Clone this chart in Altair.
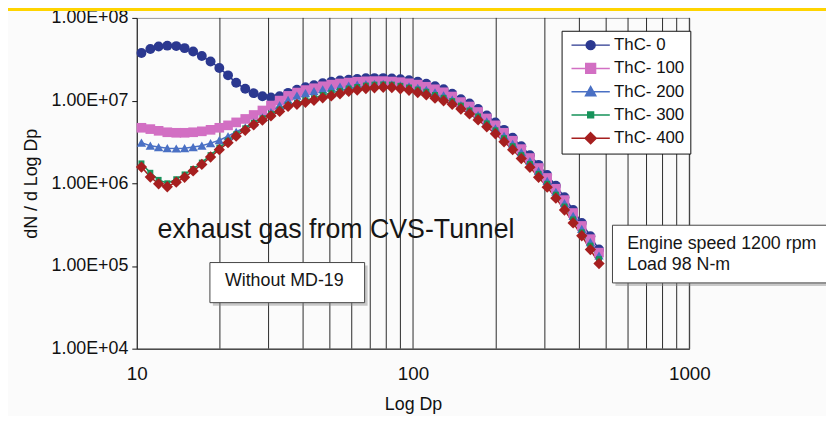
import altair as alt
import pandas as pd

# ---------------- data ----------------
dp = [10.4, 11.2, 12.0, 12.9, 13.9, 14.9, 16.0, 17.2, 18.5, 19.9,
      21.4, 22.9, 24.7, 26.5, 28.5, 30.6, 32.9, 35.3, 38.0, 40.8,
      43.8, 47.1, 50.6, 54.4, 58.5, 62.8, 67.5, 72.5, 78.0, 83.8,
      90.0, 96.7, 104.0, 111.7, 120.1, 129.0, 138.6, 149.0, 160.1, 172.0,
      184.9, 198.7, 213.5, 229.4, 246.5, 264.9, 284.7, 305.9, 328.8, 353.3,
      379.7, 408.0, 438.4, 471.1]

thc0 = [3.76e7, 4.20e7, 4.50e7, 4.62e7, 4.56e7, 4.31e7, 3.92e7, 3.46e7, 2.97e7, 2.48e7,
        2.02e7, 1.64e7, 1.39e7, 1.23e7, 1.13e7, 1.09e7, 1.13e7, 1.24e7, 1.35e7, 1.45e7,
        1.53e7, 1.62e7, 1.69e7, 1.75e7, 1.79e7, 1.83e7, 1.86e7, 1.87e7, 1.87e7, 1.85e7,
        1.81e7, 1.76e7, 1.69e7, 1.60e7, 1.49e7, 1.37e7, 1.21e7, 1.04e7, 9.21e6, 7.91e6,
        6.61e6, 5.45e6, 4.43e6, 3.56e6, 2.81e6, 2.19e6, 1.67e6, 1.26e6, 9.34e5, 6.80e5,
        4.75e5, 3.32e5, 2.29e5, 1.58e5]

thc100 = [4.69e6, 4.52e6, 4.31e6, 4.14e6, 4.08e6, 4.08e6, 4.14e6, 4.25e6, 4.43e6, 4.69e6,
          5.02e6, 5.45e6, 6.00e6, 6.70e6, 7.59e6, 8.71e6, 1.00e7, 1.14e7, 1.25e7, 1.34e7,
          1.41e7, 1.49e7, 1.56e7, 1.61e7, 1.65e7, 1.69e7, 1.71e7, 1.72e7, 1.72e7, 1.70e7,
          1.67e7, 1.62e7, 1.56e7, 1.47e7, 1.37e7, 1.26e7, 1.12e7, 9.59e6, 8.48e6, 7.28e6,
          6.08e6, 5.02e6, 4.08e6, 3.27e6, 2.59e6, 2.02e6, 1.53e6, 1.16e6, 8.59e5, 6.26e5,
          4.37e5, 3.05e5, 2.11e5, 1.45e5]

thc200 = [3.10e6, 2.85e6, 2.74e6, 2.66e6, 2.63e6, 2.66e6, 2.74e6, 2.85e6, 3.06e6, 3.32e6,
          3.71e6, 4.20e6, 4.75e6, 5.45e6, 6.26e6, 7.28e6, 8.80e6, 1.02e7, 1.15e7, 1.23e7,
          1.30e7, 1.37e7, 1.43e7, 1.48e7, 1.52e7, 1.56e7, 1.58e7, 1.59e7, 1.59e7, 1.57e7,
          1.53e7, 1.49e7, 1.43e7, 1.35e7, 1.26e7, 1.16e7, 1.03e7, 8.84e6, 7.80e6, 6.70e6,
          5.60e6, 4.62e6, 3.76e6, 3.01e6, 2.38e6, 1.86e6, 1.41e6, 1.07e6, 7.91e5, 5.76e5,
          4.03e5, 2.81e5, 1.94e5, 1.34e5]

thc300 = [1.74e6, 1.34e6, 1.10e6, 1.00e6, 1.12e6, 1.28e6, 1.49e6, 1.78e6, 2.19e6, 2.70e6,
          3.27e6, 3.92e6, 4.62e6, 5.38e6, 6.12e6, 6.89e6, 7.80e6, 8.84e6, 9.34e6, 1.01e7,
          1.07e7, 1.17e7, 1.24e7, 1.31e7, 1.40e7, 1.46e7, 1.52e7, 1.56e7, 1.57e7, 1.56e7,
          1.51e7, 1.44e7, 1.36e7, 1.28e7, 1.17e7, 1.08e7, 9.86e6, 8.71e6, 7.59e6, 6.43e6,
          5.30e6, 4.37e6, 3.51e6, 2.81e6, 2.19e6, 1.71e6, 1.30e6, 9.86e5, 7.28e5, 5.23e5,
          3.66e5, 2.55e5, 1.76e5, 1.21e5]

thc400 = [1.57e6, 1.19e6, 9.86e5, 9.08e5, 1.03e6, 1.18e6, 1.41e6, 1.69e6, 2.08e6, 2.55e6,
          3.10e6, 3.71e6, 4.37e6, 5.09e6, 5.79e6, 6.52e6, 7.39e6, 8.50e6, 9.00e6, 9.52e6,
          1.01e7, 1.08e7, 1.14e7, 1.21e7, 1.29e7, 1.34e7, 1.40e7, 1.43e7, 1.45e7, 1.44e7,
          1.39e7, 1.33e7, 1.25e7, 1.17e7, 1.07e7, 9.94e6, 9.01e6, 7.91e6, 6.89e6, 5.84e6,
          4.82e6, 3.97e6, 3.18e6, 2.55e6, 1.99e6, 1.56e6, 1.18e6, 8.96e5, 6.61e5, 4.75e5,
          3.32e5, 2.32e5, 1.58e5, 1.07e5]

series_names = ["ThC- 0", "ThC- 100", "ThC- 200", "ThC- 300", "ThC- 400"]
series_values = [thc0, thc100, thc200, thc300, thc400]

x_ticks = [10, 100, 1000]
y_ticks = [1e4, 1e5, 1e6, 1e7, 1e8]
grid_x = [20, 30, 40, 50, 60, 70, 80, 90, 100, 200, 300, 400, 500, 600, 700, 800, 900, 1000]

# annotation boxes (data coordinates)
box_x = [18.4, 527]
box_x2 = [66.8, 3300]
box_y = [1.10e5, 3.11e5]
box_y2 = [3.6e4, 6.24e4]

# ---------------- styles ----------------
colors = ["#2b3890", "#d26fc3", "#4a70c4", "#17935a", "#a61f1f"]
shapes = ["circle", "square", "triangle-up", "square", "diamond"]
sizes = [100, 95, 90, 36, 130]
legend_paths = [
    "M-1,0L7.6,0M3.3,-1C3.85,-1,4.3,-0.55,4.3,0C4.3,0.55,3.85,1,3.3,1C2.75,1,2.3,0.55,2.3,0C2.3,-0.55,2.75,-1,3.3,-1Z",
    "M-1,0L7.6,0M2.2,-1.1L4.4,-1.1L4.4,1.1L2.2,1.1Z",
    "M-1,0L7.6,0M3.3,-1.15L4.45,0.9L2.15,0.9Z",
    "M-1,0L7.6,0M2.65,-0.65L3.95,-0.65L3.95,0.65L2.65,0.65Z",
    "M-1,0L7.6,0M3.3,-1.25L4.55,0L3.3,1.25L2.05,0Z",
]
FONT = "Liberation Sans"

xscale = alt.Scale(type="log", domain=[10, 1000], nice=False)
yscale = alt.Scale(type="log", domain=[1e4, 1e8], nice=False)

x_axis = alt.Axis(
    values=x_ticks, format="d", title="Log Dp", ticks=False, grid=False,
    labelPadding=16, titlePadding=12, labelFontSize=19, titleFontSize=18,
    labelFlush=False,
)
y_axis = alt.Axis(
    values=y_ticks,
    labelExpr="replace(upper(format(datum.value, '.2e')), '+', '+0')",
    title="dN / d Log Dp", grid=False, tickSize=5, labelPadding=4,
    titlePadding=11, labelFontSize=18, titleFontSize=18,
)


def X(field):
    return alt.X(field, type="quantitative", scale=xscale, axis=x_axis)


def Y(field):
    return alt.Y(field, type="quantitative", scale=yscale, axis=y_axis)


# grid lines
grid = alt.Chart(pd.DataFrame({"dp": grid_x})).mark_rule(color="#2a2a2a", strokeWidth=1).encode(
    x=X("dp")
)

# annotation boxes
box_df = pd.DataFrame({"dp": box_x, "dp2": box_x2, "value": box_y, "value2": box_y2})
box_enc = dict(x=X("dp"), x2="dp2:Q", y=Y("value"), y2="value2:Q")
shadow = alt.Chart(box_df).mark_rect(
    fill="#8a8a8a", opacity=0.45, xOffset=3, x2Offset=3, yOffset=3, y2Offset=3
).encode(**box_enc)
boxes = alt.Chart(box_df).mark_rect(fill="white", stroke="#444", strokeWidth=1).encode(**box_enc)


def text_layer(x, y, label, size, align):
    d = pd.DataFrame({"dp": [x], "value": [y], "t": [label]})
    return alt.Chart(d).mark_text(
        font=FONT, fontSize=size, color="#161616", align=align, baseline="alphabetic"
    ).encode(x=X("dp"), y=Y("value"), text="t:N")


t1 = text_layer(11.9, 2.16e5, "exhaust gas from CVS-Tunnel", 27, "left")
t2 = text_layer(34.2, 5.68e4, "Without MD-19", 18, "center")
t3 = text_layer(596, 1.59e5, "Engine speed 1200 rpm", 18, "left")
t4 = text_layer(596, 9.0e4, "Load 98 N-m", 18, "left")

# one line layer and one point layer per series
line_layers, point_layers = [], []
for name, vals, col, shp, sz in zip(series_names, series_values, colors, shapes, sizes):
    sdf = pd.DataFrame({"dp": dp, "value": vals})
    line_layers.append(
        alt.Chart(sdf).mark_line(color=col, strokeWidth=1.5).encode(x=X("dp"), y=Y("value"))
    )
    point_layers.append(
        alt.Chart(sdf).mark_point(filled=True, opacity=1, shape=shp, size=sz, color=col).encode(
            x=X("dp"), y=Y("value")
        )
    )

leg = alt.Legend(
    title=None, orient="none", legendX=429, legendY=13, padding=6,
    strokeColor="#111", fillColor="white", labelFont=FONT, labelFontSize=17,
    labelColor="#111", labelOffset=30, rowPadding=5.5, symbolSize=81,
    symbolStrokeWidth=1.5, cornerRadius=0,
    symbolFillColor="#000000", symbolStrokeColor="#000000",
)
legend_layer = alt.Chart(pd.DataFrame({"series": series_names})).mark_point(
    filled=True, opacity=1
).encode(
    x=alt.value(-600),
    y=alt.value(-600),
    fill=alt.Fill("series:N", scale=alt.Scale(domain=series_names, range=colors), legend=leg),
    stroke=alt.Stroke("series:N", scale=alt.Scale(domain=series_names, range=colors), legend=leg),
    shape=alt.Shape("series:N", scale=alt.Scale(domain=series_names, range=legend_paths), legend=leg),
)

top_band = alt.Chart(pd.DataFrame({"a": [0]})).mark_rect(color="#ffd400").encode(
    x=alt.value(-140), x2=alt.value(700), y=alt.value(-30), y2=alt.value(-7)
)

chart = alt.layer(
    grid, t1, shadow, boxes, t2, t3, t4, *line_layers, *point_layers, legend_layer, top_band
).properties(
    width=558,
    height=334,
    padding={"left": 130, "top": 8, "right": 138, "bottom": 66},
    autosize=alt.AutoSizeParams(type="none"),
    background="#fbfbfb",
).configure_view(
    stroke="#999999", strokeWidth=1
).configure_axis(
    labelFont=FONT, titleFont=FONT, labelColor="#111", titleColor="#111",
    domainColor="#111", tickColor="#111", domainWidth=1, titleFontWeight="normal",
)

chart.save("out.html", embed_options={"renderer": "svg", "actions": False})
